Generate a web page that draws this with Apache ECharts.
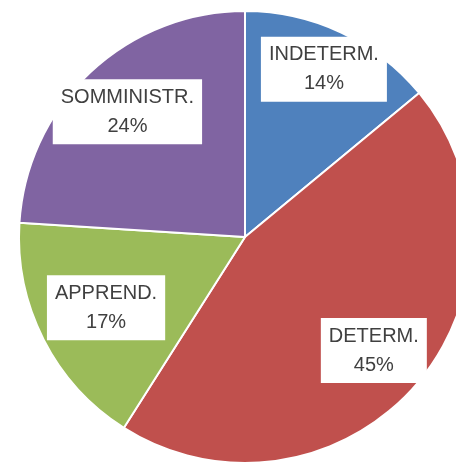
<!DOCTYPE html>
<html>
<head>
<meta charset="utf-8">
<script src="https://cdn.jsdelivr.net/npm/echarts@6/dist/echarts.min.js"></script>
<style>
  html, body { margin: 0; padding: 0; background: #fff; }
  #chart { width: 456px; height: 463px; }
</style>
</head>
<body>
<div id="chart"></div>
<script>
var categories = ['INDETERM.', 'DETERM.', 'APPREND.', 'SOMMINISTR.'];
var values = [14, 45, 17, 24];
var colors = ['#4F81BD', '#C0504D', '#9BBB59', '#8064A2'];

// where each label sits, as a fraction of the radius along the slice middle
var labelRadius = [0.82, 0.76, 0.69, 0.76];

var cx = 245, cy = 237, R = 226;

var total = values.reduce(function (a, b) { return a + b; }, 0);
var midAngles = [];
var acc = 0;
values.forEach(function (v) {
    midAngles.push((acc + v / 2) / total * 2 * Math.PI);
    acc += v;
});

var chart = echarts.init(document.getElementById('chart'));

var option = {
    animation: false,
    series: [
        {
            type: 'pie',
            center: [cx, cy],
            radius: R,
            startAngle: 90,
            clockwise: true,
            itemStyle: {
                borderColor: '#fff',
                borderWidth: 2
            },
            label: {
                show: true,
                position: 'inside',
                formatter: '{b}\n{d}%',
                fontFamily: 'Liberation Sans',
                fontSize: 20,
                lineHeight: 29,
                color: '#404040',
                backgroundColor: '#fff',
                padding: [4, 8, 3, 8]
            },
            labelLine: { show: false },
            emphasis: { disabled: true },
            data: categories.map(function (c, i) {
                return { name: c, value: values[i], itemStyle: { color: colors[i] } };
            })
        }
    ]
};

option.series[0].labelLayout = function (params) {
    var i = params.dataIndex;
    var a = midAngles[i];
    var r = R * labelRadius[i];
    return {
        x: cx + r * Math.sin(a),
        y: cy - r * Math.cos(a)
    };
};

chart.setOption(option);
window.addEventListener('resize', chart.resize);
</script>
</body>
</html>
